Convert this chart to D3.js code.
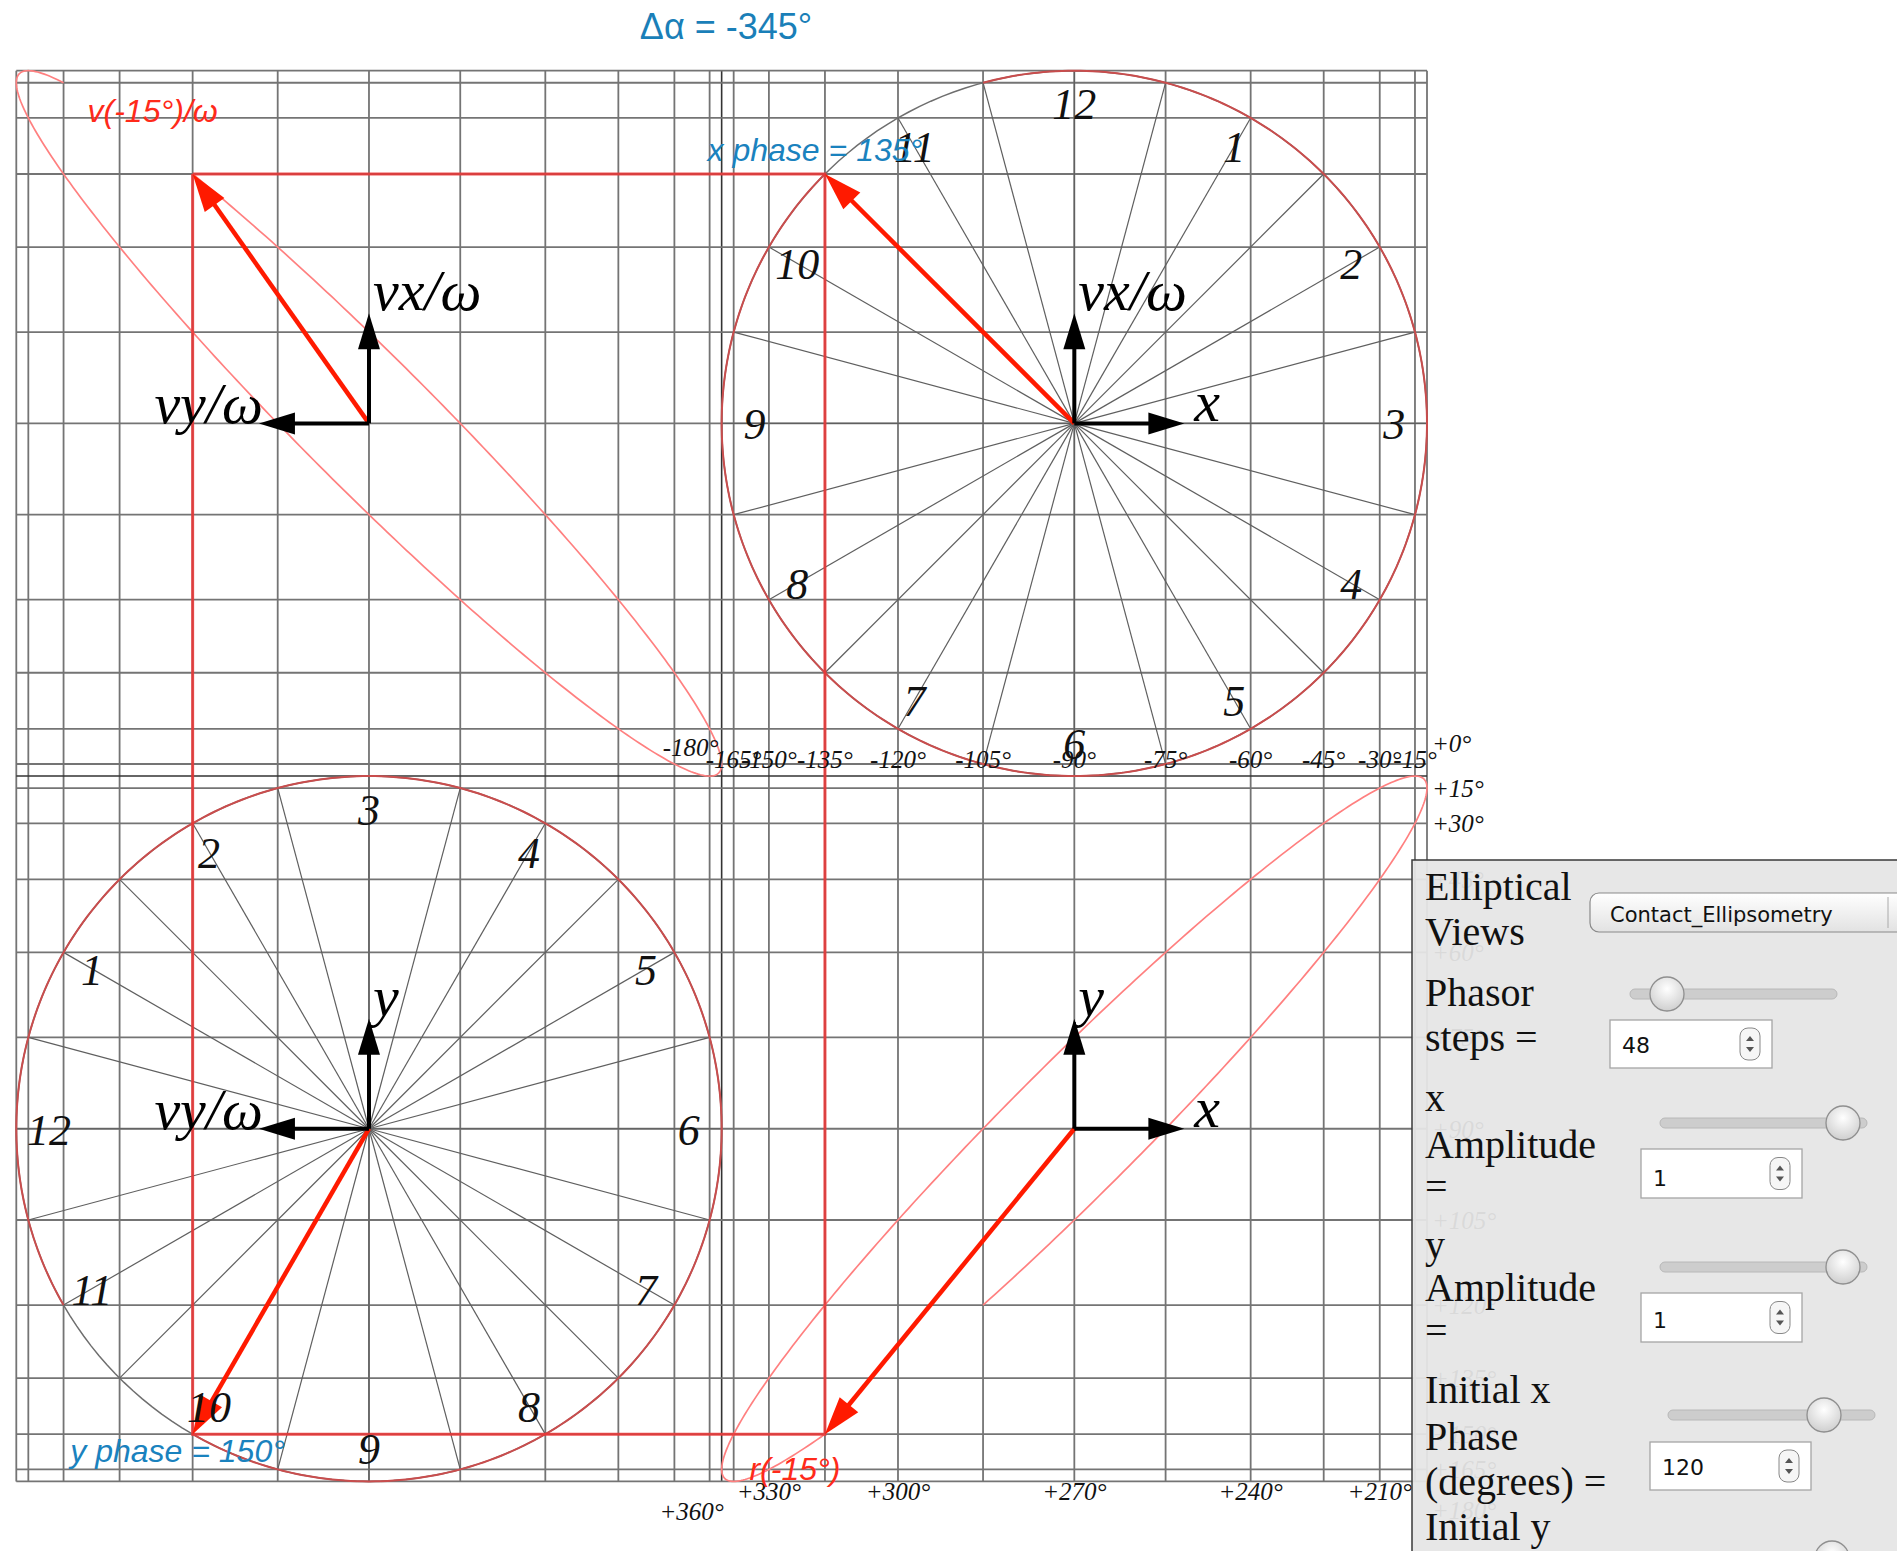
<!DOCTYPE html>
<html><head><meta charset="utf-8">
<script src="https://cdn.jsdelivr.net/npm/d3@7"></script>
<style>body{margin:0;background:#fff;overflow:hidden}</style>
</head><body>
<svg id="chart" width="1897" height="1551"></svg>
<script>
// ---------------- data ----------------
const titleText = "Δα = -345°";
const xPhase = 135;          // phase of x phasor (deg)
const yPhase = 150;          // phase of y phasor (deg)
const timeLabel = "-15°";
const arcSweep = 330;        // drawn part of each locus (deg)
const gridAngles = d3.range(0, 360, 15);
const spokeAngles = d3.range(0, 360, 15);
const clockHours = [1,2,3,4,5,6,7,8,9,10,11,12];
const topAngleLabels = [-180,-165,-150,-135,-120,-105,-90,-75,-60,-45,-30,-15];
const rightAngleLabels = [0,15,30,45,60,75,90,105,120,135,150,165,180];
const bottomAngleLabels = [360,330,300,270,240,210];
const panelLines = [["Elliptical",900],["Views",945],["Phasor",1006],["steps =",1051],["x",1111],["Amplitude",1158],["=",1200],["y",1258],["Amplitude",1301],["=",1344],["Initial x",1403],["Phase",1450],["(degrees) =",1495],["Initial y",1540]];
const panelValues = ["48","1","1","120"];
const viewOption = "Contact_Ellipsometry";

// ---------------- setup ----------------
const svg = d3.select("#chart");
svg.append("rect").attr("width",1897).attr("height",1551).attr("fill","#fff");
const rad = d => d*Math.PI/180, cs = d => Math.cos(rad(d)), sn = d => Math.sin(rad(d));
const sx = d3.scaleLinear().domain([-1,3]).range([16.3,1427.0]);
const sy = d3.scaleLinear().domain([1,-3]).range([70.7,1481.4]);
const path = d3.line().x(d=>sx(d[0])).y(d=>sy(d[1]));

// ---------------- grid ----------------
const gx = Array.from(new Set([0,2].flatMap(c=>gridAngles.map(a=>+(c+cs(a)).toFixed(4)))));
const gy = Array.from(new Set([0,-2].flatMap(c=>gridAngles.map(a=>+(c+sn(a)).toFixed(4)))));
const grid = svg.append("g");
grid.selectAll("line.v").data(gx).join("line").attr("class","v")
  .attr("x1",d=>sx(d)).attr("x2",d=>sx(d)).attr("y1",sy(1)).attr("y2",sy(-3))
  .attr("stroke",d=>d===1?"#333":"#747474").attr("stroke-width",d=>d===1?1.6:1.8);
grid.selectAll("line.h").data(gy).join("line").attr("class","h")
  .attr("y1",d=>sy(d)).attr("y2",d=>sy(d)).attr("x1",sx(-1)).attr("x2",sx(3))
  .attr("stroke",d=>d===-1?"#333":"#747474").attr("stroke-width",d=>d===-1?1.6:1.8);

// ---------------- spokes & circles ----------------
const centers = {v:[0,0], x:[2,0], y:[0,-2], r:[2,-2]};
const g = svg.append("g");
[centers.x, centers.y].forEach(c=>{
  g.selectAll(null).data(spokeAngles).join("line")
    .attr("x1",sx(c[0])).attr("y1",sy(c[1]))
    .attr("x2",a=>sx(c[0]+cs(a))).attr("y2",a=>sy(c[1]+sn(a)))
    .attr("stroke","#5f5f5f").attr("stroke-width",1.2);
  g.append("path").attr("d",path(d3.range(0,361,2).map(a=>[c[0]+cs(a),c[1]+sn(a)])))
    .attr("fill","none").attr("stroke","#6e6e6e").attr("stroke-width",1.5);
});
const sweep = s => d3.range(s, s+arcSweep+0.01, 1);
g.append("path").attr("d",path(sweep(xPhase).map(a=>[2+cs(a),sn(a)])))
  .attr("fill","none").attr("stroke","#c94d4d").attr("stroke-width",2);
g.append("path").attr("d",path(sweep(yPhase).map(a=>[-sn(a),-2+cs(a)])))
  .attr("fill","none").attr("stroke","#c94d4d").attr("stroke-width",2);

// ---------------- ellipses ----------------
const dPh = yPhase - xPhase;
g.append("path").attr("d",path(sweep(xPhase).map(t=>[2+cs(t),-2+cs(t+dPh)])))
  .attr("fill","none").attr("stroke","#ff8080").attr("stroke-width",1.7);
g.append("path").attr("d",path(sweep(xPhase).map(t=>[-sn(t+dPh),sn(t)])))
  .attr("fill","none").attr("stroke","#ff8080").attr("stroke-width",1.7);

// ---------------- tips & rectangle ----------------
const xTip=[2+cs(xPhase),sn(xPhase)], yTip=[-sn(yPhase),-2+cs(yPhase)];
const rTip=[2+cs(xPhase),-2+cs(yPhase)], vTip=[-sn(yPhase),sn(xPhase)];
g.append("path").attr("d",path([vTip,xTip,rTip,yTip,vTip]))
  .attr("fill","none").attr("stroke","#ec3636").attr("stroke-width",3).attr("stroke-opacity",0.85);

function arrow(p1,p2,color,lw,hl,hw){
  const x1=sx(p1[0]),y1=sy(p1[1]),x2=sx(p2[0]),y2=sy(p2[1]);
  const dx=x2-x1,dy=y2-y1,L=Math.hypot(dx,dy),ux=dx/L,uy=dy/L;
  const bx=x2-ux*hl,by=y2-uy*hl;
  g.append("line").attr("x1",x1).attr("y1",y1).attr("x2",bx+ux*3).attr("y2",by+uy*3)
    .attr("stroke",color).attr("stroke-width",lw);
  g.append("polygon").attr("points",[[x2,y2],[bx-uy*hw,by+ux*hw],[bx+uy*hw,by-ux*hw]].map(p=>p.join(",")).join(" "))
    .attr("fill",color);
}
arrow(centers.x,xTip,"#ff1a00",4.5,38,12);
arrow(centers.y,yTip,"#ff1a00",4.5,38,12);
arrow(centers.r,rTip,"#ff1a00",4.5,38,12);
arrow(centers.v,vTip,"#ff1a00",4.5,38,12);

// ---------------- black axes ----------------
const AL = 0.312;
const axes = [
  {c:centers.v, up:"vx/ω", side:"vy/ω", dir:-1},
  {c:centers.x, up:"vx/ω", side:"x", dir:1},
  {c:centers.y, up:"y", side:"vy/ω", dir:-1},
  {c:centers.r, up:"y", side:"x", dir:1}
];
const serifI = "'Liberation Serif','Times New Roman',serif";
axes.forEach(a=>{
  arrow(a.c,[a.c[0],a.c[1]+AL],"#000",4,36,11);
  arrow(a.c,[a.c[0]+a.dir*AL,a.c[1]],"#000",4,36,11);
  g.append("text").attr("x",sx(a.c[0])+4).attr("y",sy(a.c[1]+AL)-3)
    .attr("font-family",serifI).attr("font-style","italic").attr("font-size",58).text(a.up);
  if(a.dir>0){
    g.append("text").attr("x",sx(a.c[0]+AL)+10).attr("y",sy(a.c[1])-2)
      .attr("font-family",serifI).attr("font-style","italic").attr("font-size",58).text(a.side);
  } else {
    g.append("text").attr("x",sx(a.c[0]-AL)+4).attr("y",sy(a.c[1])).attr("text-anchor","end")
      .attr("font-family",serifI).attr("font-style","italic").attr("font-size",58).text(a.side);
  }
});

// ---------------- clock numbers ----------------
const NR = 0.907;
g.selectAll(null).data(clockHours).join("text")
  .attr("x",n=>sx(2+NR*cs(90-30*n))).attr("y",n=>sy(NR*sn(90-30*n))).attr("dy","0.36em")
  .attr("text-anchor","middle").attr("font-family",serifI).attr("font-style","italic")
  .attr("font-size",44).attr("fill","#111").text(n=>n);
g.selectAll(null).data(clockHours).join("text")
  .attr("x",n=>sx(NR*cs(180-30*n))).attr("y",n=>sy(-2+NR*sn(180-30*n))).attr("dy","0.36em")
  .attr("text-anchor","middle").attr("font-family",serifI).attr("font-style","italic")
  .attr("font-size",44).attr("fill","#111").text(n=>n);

// ---------------- angle labels ----------------
const fmt = a => (a<0?`${a}°`:`+${a}°`);
const lab = {"font-family":serifI,"font-style":"italic","font-size":25,"fill":"#111"};
function applyAttrs(sel,o){Object.entries(o).forEach(([k,v])=>sel.attr(k,v));return sel;}
applyAttrs(g.selectAll(null).data(topAngleLabels).join("text")
  .attr("x",a=>sx(2+cs(a))+(a===-180?-31:0)).attr("y",a=>sy(-1)-8+(a===-180?-12:0))
  .attr("text-anchor","middle").text(fmt),lab);
applyAttrs(g.selectAll(null).data(rightAngleLabels).join("text")
  .attr("x",sx(3)+5).attr("y",a=>sy(-2+cs(a))+9+(a===0?-33:a===180?29:0))
  .text(fmt),lab);
applyAttrs(g.selectAll(null).data(bottomAngleLabels).join("text")
  .attr("x",a=>sx(2-cs(a))+(a===360?-30:0)).attr("y",a=>sy(-3)+19+(a===360?20:0))
  .attr("text-anchor","middle").text(fmt),lab);

// ---------------- phase / vector labels ----------------
const sansI = {"font-family":"'Liberation Sans',Arial,sans-serif","font-style":"italic","font-size":32,"text-anchor":"middle"};
applyAttrs(g.append("text").attr("x",sx(xTip[0])-10).attr("y",sy(xTip[1])-13).attr("fill","#1a82be").text(`x phase = ${xPhase}°`),sansI);
applyAttrs(g.append("text").attr("x",sx(yTip[0])-15).attr("y",sy(yTip[1])+28).attr("fill","#1a82be").text(`y phase = ${yPhase}°`),sansI);
applyAttrs(g.append("text").attr("x",sx(vTip[0])-40).attr("y",sy(vTip[1])-52).attr("fill","#ff2a1a").text(`v(${timeLabel})/ω`),sansI);
applyAttrs(g.append("text").attr("x",sx(rTip[0])-30).attr("y",sy(rTip[1])+46).attr("fill","#ff2a1a").text(`r(${timeLabel})`),sansI);
svg.append("text").attr("x",726).attr("y",39).attr("text-anchor","middle")
  .attr("font-family","'Liberation Sans',Arial,sans-serif").attr("font-size",36).attr("fill","#1a7fb8").text(titleText);

// ---------------- control panel ----------------
const defs = svg.append("defs");
const gr1 = defs.append("linearGradient").attr("id","btn").attr("x1",0).attr("y1",0).attr("x2",0).attr("y2",1);
gr1.append("stop").attr("offset","0%").attr("stop-color","#ffffff");
gr1.append("stop").attr("offset","100%").attr("stop-color","#e2e2e2");
const gr2 = defs.append("radialGradient").attr("id","knob").attr("cx","50%").attr("cy","35%").attr("r","65%");
gr2.append("stop").attr("offset","0%").attr("stop-color","#ffffff");
gr2.append("stop").attr("offset","100%").attr("stop-color","#cfcfcf");

const P = svg.append("g");
P.append("rect").attr("x",1412).attr("y",860).attr("width",520).attr("height",720)
  .attr("fill","#e6e6e6").attr("fill-opacity",0.94).attr("stroke","#3a3a3a").attr("stroke-width",1.5);
P.selectAll(null).data(panelLines).join("text").attr("x",1425).attr("y",d=>d[1])
  .attr("font-family","'Liberation Serif','Times New Roman',serif").attr("font-size",40).attr("fill","#111").text(d=>d[0]);

// dropdown
P.append("rect").attr("x",1590).attr("y",893).attr("width",340).attr("height",39).attr("rx",9)
  .attr("fill","url(#btn)").attr("stroke","#8a8a8a").attr("stroke-width",1.2);
P.append("line").attr("x1",1888).attr("x2",1888).attr("y1",897).attr("y2",928).attr("stroke","#aaa");
P.append("text").attr("x",1610).attr("y",922).attr("font-family","'DejaVu Sans',sans-serif").attr("font-size",21).attr("fill","#111").text(viewOption);

// sliders
const sliders = [{x1:1630,x2:1837,y:994,k:1667},{x1:1660,x2:1867,y:1123,k:1843},{x1:1660,x2:1867,y:1267,k:1843},{x1:1668,x2:1875,y:1415,k:1824},{x1:1668,x2:1875,y:1558,k:1832}];
sliders.forEach(s=>{
  P.append("rect").attr("x",s.x1).attr("y",s.y-5).attr("width",s.x2-s.x1).attr("height",10).attr("rx",5)
    .attr("fill","#cdcdcd").attr("stroke","#b8b8b8");
  P.append("circle").attr("cx",s.k).attr("cy",s.y).attr("r",17).attr("fill","url(#knob)").attr("stroke","#8f8f8f").attr("stroke-width",1.3);
});
// inputs
const inputs = [{x:1610,y:1020,w:162,h:48,ty:1053},{x:1641,y:1149,w:161,h:49,ty:1186},{x:1641,y:1293,w:161,h:49,ty:1328},{x:1650,y:1442,w:161,h:48,ty:1475}];
inputs.forEach((b,i)=>{
  P.append("rect").attr("x",b.x).attr("y",b.y).attr("width",b.w).attr("height",b.h).attr("fill","#fff").attr("stroke","#a5a5a5").attr("stroke-width",1.3);
  P.append("text").attr("x",b.x+12).attr("y",b.ty).attr("font-family","'DejaVu Sans',sans-serif").attr("font-size",22).attr("fill","#111").text(panelValues[i]);
  const sx0=b.x+b.w-32, sy0=b.y+b.h/2-16;
  P.append("rect").attr("x",sx0).attr("y",sy0).attr("width",20).attr("height",32).attr("rx",8).attr("fill","#f6f6f6").attr("stroke","#888");
  P.append("path").attr("d",`M${sx0+6},${sy0+13}L${sx0+10},${sy0+8}L${sx0+14},${sy0+13}Z M${sx0+6},${sy0+19}L${sx0+10},${sy0+24}L${sx0+14},${sy0+19}Z`).attr("fill","#555");
});
</script>
</body></html>
